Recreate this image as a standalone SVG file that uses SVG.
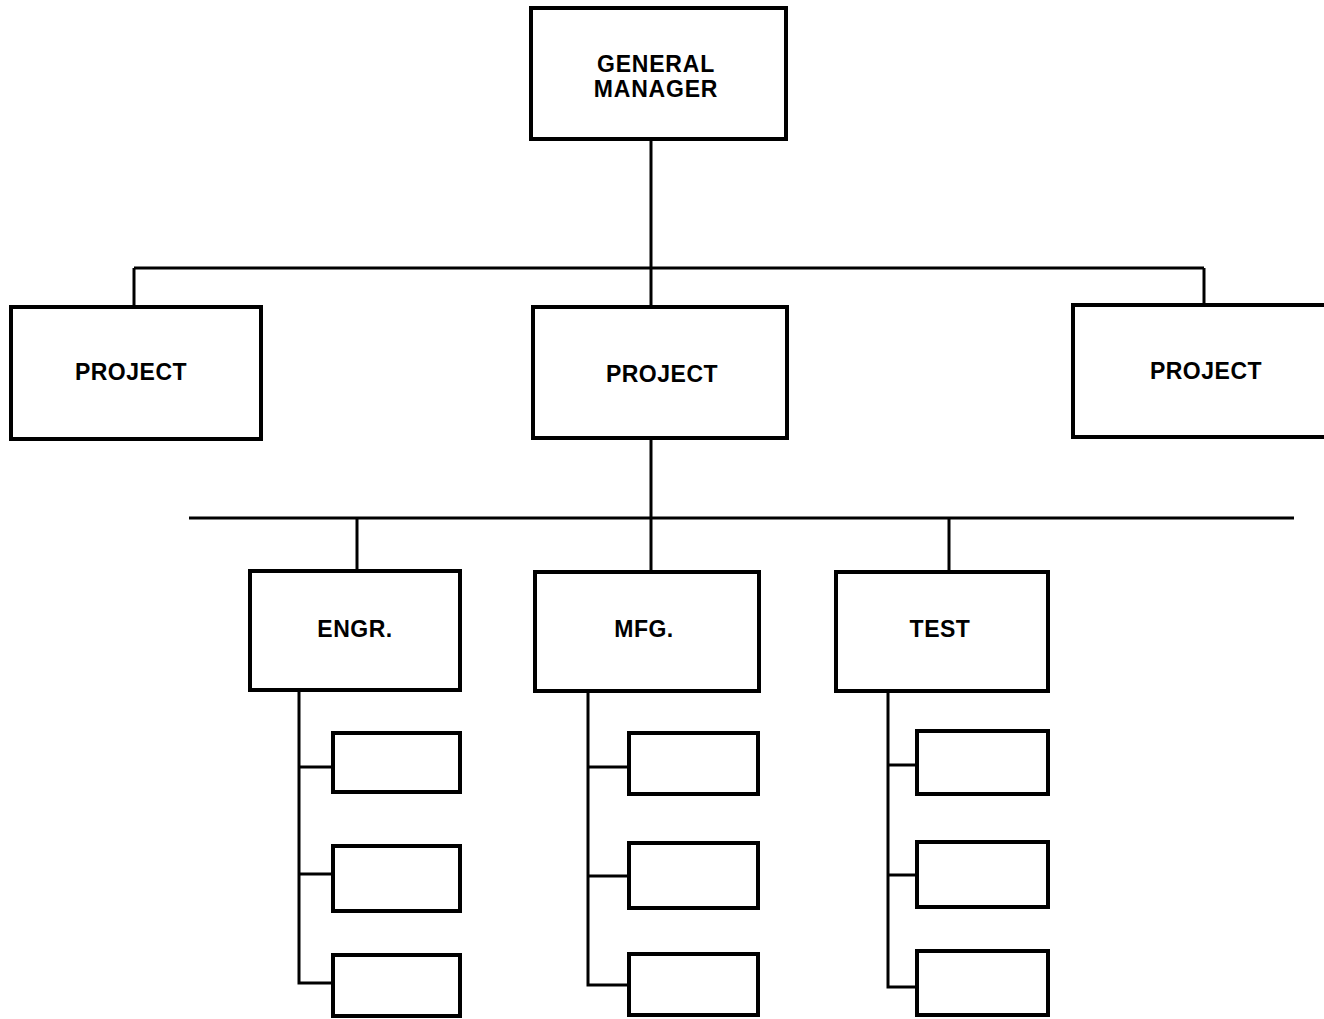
<svg xmlns="http://www.w3.org/2000/svg" width="1324" height="1019" viewBox="0 0 1324 1019">
  <style>
    .box { fill: #ffffff; stroke: #000000; stroke-width: 4; }
    .sub { fill: #ffffff; stroke: #000000; stroke-width: 4; }
    .wire { fill: none; stroke: #000000; stroke-width: 3; }
    .label { font-family: "Liberation Sans", Arial, sans-serif; font-weight: bold; font-size: 23px; letter-spacing: 0.5px; fill: #000000; text-anchor: middle; }
  </style>
  <rect width="1324" height="1019" fill="#ffffff"/>

  <!-- connectors -->
  <g id="connectors" class="wire">
    <!-- general manager to projects -->
    <line x1="651" y1="139" x2="651" y2="307"/>
    <line x1="134" y1="268" x2="1204" y2="268"/>
    <line x1="134" y1="268" x2="134" y2="307"/>
    <line x1="1204" y1="268" x2="1204" y2="305"/>
    <!-- project to functional departments -->
    <line x1="651" y1="438" x2="651" y2="572"/>
    <line x1="189" y1="518" x2="1294" y2="518"/>
    <line x1="357" y1="518" x2="357" y2="571"/>
    <line x1="949" y1="518" x2="949" y2="572"/>
    <!-- engineering sub-units -->
    <polyline points="299,690 299,983 333,983"/>
    <line x1="299" y1="767" x2="333" y2="767"/>
    <line x1="299" y1="874" x2="333" y2="874"/>
    <!-- manufacturing sub-units -->
    <polyline points="588,691 588,985 629,985"/>
    <line x1="588" y1="767" x2="629" y2="767"/>
    <line x1="588" y1="876" x2="629" y2="876"/>
    <!-- test sub-units -->
    <polyline points="888,691 888,987 917,987"/>
    <line x1="888" y1="765" x2="917" y2="765"/>
    <line x1="888" y1="875" x2="917" y2="875"/>
  </g>

  <g id="general-manager">
    <rect class="box" x="531" y="8" width="255" height="131"/>
    <text class="label" x="656" y="72" style="letter-spacing:0.8px">GENERAL</text>
    <text class="label" x="656" y="97" style="letter-spacing:0.8px">MANAGER</text>
  </g>

  <g id="project-left">
    <rect class="box" x="11" y="307" width="250" height="132"/>
    <text class="label" x="131" y="380">PROJECT</text>
  </g>
  <g id="project-center">
    <rect class="box" x="533" y="307" width="254" height="131"/>
    <text class="label" x="662" y="382">PROJECT</text>
  </g>
  <g id="project-right">
    <rect class="box" x="1073" y="305" width="260" height="132"/>
    <text class="label" x="1206" y="379">PROJECT</text>
  </g>

  <g id="engr">
    <rect class="box" x="250" y="571" width="210" height="119"/>
    <text class="label" x="355" y="637">ENGR.</text>
  </g>
  <g id="mfg">
    <rect class="box" x="535" y="572" width="224" height="119"/>
    <text class="label" x="644" y="637">MFG.</text>
  </g>
  <g id="test">
    <rect class="box" x="836" y="572" width="212" height="119"/>
    <text class="label" x="940" y="637">TEST</text>
  </g>

  <g id="engr-unit-1"><rect class="sub" x="333" y="733" width="127" height="59"/></g>
  <g id="engr-unit-2"><rect class="sub" x="333" y="846" width="127" height="65"/></g>
  <g id="engr-unit-3"><rect class="sub" x="333" y="955" width="127" height="61"/></g>

  <g id="mfg-unit-1"><rect class="sub" x="629" y="733" width="129" height="61"/></g>
  <g id="mfg-unit-2"><rect class="sub" x="629" y="843" width="129" height="65"/></g>
  <g id="mfg-unit-3"><rect class="sub" x="629" y="954" width="129" height="61"/></g>

  <g id="test-unit-1"><rect class="sub" x="917" y="731" width="131" height="63"/></g>
  <g id="test-unit-2"><rect class="sub" x="917" y="842" width="131" height="65"/></g>
  <g id="test-unit-3"><rect class="sub" x="917" y="951" width="131" height="64"/></g>
</svg>
